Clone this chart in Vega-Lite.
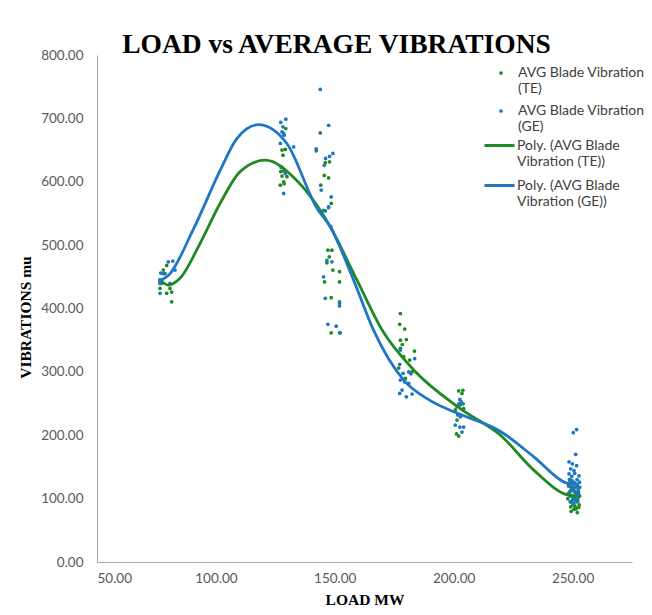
{
  "$schema": "https://vega.github.io/schema/vega-lite/v6.json",
  "width": 535,
  "height": 507,
  "autosize": "none",
  "padding": {"left": 97, "top": 55, "right": 20, "bottom": 53},
  "background": "white",
  "config": {"view": {"stroke": null}},
  "title": {
    "text": "LOAD vs AVERAGE VIBRATIONS",
    "font": "Liberation Serif",
    "fontSize": 27.5,
    "fontWeight": "bold",
    "color": "#000000",
    "anchor": "middle",
    "offset": -10,
    "dx": -28
  },
  "datasets": {
    "pts": [
      {"series": "AVG Blade Vibration (TE)", "load": 79.3, "vib": 468},
      {"series": "AVG Blade Vibration (TE)", "load": 77.9, "vib": 460.6},
      {"series": "AVG Blade Vibration (TE)", "load": 76.5, "vib": 431.7},
      {"series": "AVG Blade Vibration (TE)", "load": 80.7, "vib": 431.7},
      {"series": "AVG Blade Vibration (TE)", "load": 81.4, "vib": 426},
      {"series": "AVG Blade Vibration (TE)", "load": 81.4, "vib": 410.6},
      {"series": "AVG Blade Vibration (TE)", "load": 78.6, "vib": 455},
      {"series": "AVG Blade Vibration (TE)", "load": 76.5, "vib": 439.6},
      {"series": "AVG Blade Vibration (TE)", "load": 77.2, "vib": 445},
      {"series": "AVG Blade Vibration (TE)", "load": 79.3, "vib": 424},
      {"series": "AVG Blade Vibration (TE)", "load": 129.4, "vib": 684},
      {"series": "AVG Blade Vibration (TE)", "load": 127.8, "vib": 650},
      {"series": "AVG Blade Vibration (TE)", "load": 129.2, "vib": 651},
      {"series": "AVG Blade Vibration (TE)", "load": 128.2, "vib": 642},
      {"series": "AVG Blade Vibration (TE)", "load": 127.5, "vib": 622.5},
      {"series": "AVG Blade Vibration (TE)", "load": 128.5, "vib": 617},
      {"series": "AVG Blade Vibration (TE)", "load": 127.8, "vib": 609},
      {"series": "AVG Blade Vibration (TE)", "load": 129.9, "vib": 608},
      {"series": "AVG Blade Vibration (TE)", "load": 128.5, "vib": 600},
      {"series": "AVG Blade Vibration (TE)", "load": 127.1, "vib": 594.6},
      {"series": "AVG Blade Vibration (TE)", "load": 128.7, "vib": 597},
      {"series": "AVG Blade Vibration (TE)", "load": 127.3, "vib": 616},
      {"series": "AVG Blade Vibration (TE)", "load": 143.9, "vib": 677},
      {"series": "AVG Blade Vibration (TE)", "load": 142.2, "vib": 648.8},
      {"series": "AVG Blade Vibration (TE)", "load": 146.0, "vib": 630},
      {"series": "AVG Blade Vibration (TE)", "load": 147.8, "vib": 631.4},
      {"series": "AVG Blade Vibration (TE)", "load": 145.6, "vib": 610},
      {"series": "AVG Blade Vibration (TE)", "load": 147.4, "vib": 606},
      {"series": "AVG Blade Vibration (TE)", "load": 144.1, "vib": 594.6},
      {"series": "AVG Blade Vibration (TE)", "load": 148.5, "vib": 565.8},
      {"series": "AVG Blade Vibration (TE)", "load": 146.0, "vib": 554},
      {"series": "AVG Blade Vibration (TE)", "load": 147.1, "vib": 492},
      {"series": "AVG Blade Vibration (TE)", "load": 148.8, "vib": 492},
      {"series": "AVG Blade Vibration (TE)", "load": 147.7, "vib": 481.6},
      {"series": "AVG Blade Vibration (TE)", "load": 146.7, "vib": 472},
      {"series": "AVG Blade Vibration (TE)", "load": 149.2, "vib": 460.6},
      {"series": "AVG Blade Vibration (TE)", "load": 152.0, "vib": 458},
      {"series": "AVG Blade Vibration (TE)", "load": 145.7, "vib": 442},
      {"series": "AVG Blade Vibration (TE)", "load": 152.0, "vib": 442},
      {"series": "AVG Blade Vibration (TE)", "load": 148.5, "vib": 417},
      {"series": "AVG Blade Vibration (TE)", "load": 152.0, "vib": 410.6},
      {"series": "AVG Blade Vibration (TE)", "load": 148.5, "vib": 361.7},
      {"series": "AVG Blade Vibration (TE)", "load": 152.0, "vib": 361.7},
      {"series": "AVG Blade Vibration (TE)", "load": 177.6, "vib": 392},
      {"series": "AVG Blade Vibration (TE)", "load": 177.3, "vib": 375},
      {"series": "AVG Blade Vibration (TE)", "load": 179.4, "vib": 367.5},
      {"series": "AVG Blade Vibration (TE)", "load": 177.6, "vib": 350},
      {"series": "AVG Blade Vibration (TE)", "load": 180.1, "vib": 351},
      {"series": "AVG Blade Vibration (TE)", "load": 178.4, "vib": 343},
      {"series": "AVG Blade Vibration (TE)", "load": 183.5, "vib": 332.8},
      {"series": "AVG Blade Vibration (TE)", "load": 177.6, "vib": 337},
      {"series": "AVG Blade Vibration (TE)", "load": 179.0, "vib": 324},
      {"series": "AVG Blade Vibration (TE)", "load": 181.5, "vib": 318.6},
      {"series": "AVG Blade Vibration (TE)", "load": 182.5, "vib": 300},
      {"series": "AVG Blade Vibration (TE)", "load": 179.7, "vib": 289.7},
      {"series": "AVG Blade Vibration (TE)", "load": 176.9, "vib": 306},
      {"series": "AVG Blade Vibration (TE)", "load": 202.1, "vib": 270},
      {"series": "AVG Blade Vibration (TE)", "load": 203.9, "vib": 271},
      {"series": "AVG Blade Vibration (TE)", "load": 203.5, "vib": 266},
      {"series": "AVG Blade Vibration (TE)", "load": 201.4, "vib": 245},
      {"series": "AVG Blade Vibration (TE)", "load": 202.8, "vib": 248},
      {"series": "AVG Blade Vibration (TE)", "load": 204.2, "vib": 242},
      {"series": "AVG Blade Vibration (TE)", "load": 201.4, "vib": 224},
      {"series": "AVG Blade Vibration (TE)", "load": 200.7, "vib": 240},
      {"series": "AVG Blade Vibration (TE)", "load": 201.2, "vib": 202},
      {"series": "AVG Blade Vibration (TE)", "load": 202.1, "vib": 198.7},
      {"series": "AVG Blade Vibration (TE)", "load": 248.5, "vib": 120},
      {"series": "AVG Blade Vibration (TE)", "load": 249.0, "vib": 112},
      {"series": "AVG Blade Vibration (TE)", "load": 249.5, "vib": 105},
      {"series": "AVG Blade Vibration (TE)", "load": 250.0, "vib": 98},
      {"series": "AVG Blade Vibration (TE)", "load": 250.5, "vib": 92},
      {"series": "AVG Blade Vibration (TE)", "load": 251.0, "vib": 88},
      {"series": "AVG Blade Vibration (TE)", "load": 251.5, "vib": 84},
      {"series": "AVG Blade Vibration (TE)", "load": 252.0, "vib": 78},
      {"series": "AVG Blade Vibration (TE)", "load": 249.2, "vib": 87},
      {"series": "AVG Blade Vibration (TE)", "load": 250.8, "vib": 102},
      {"series": "AVG Blade Vibration (TE)", "load": 251.8, "vib": 95},
      {"series": "AVG Blade Vibration (TE)", "load": 252.5, "vib": 110},
      {"series": "AVG Blade Vibration (TE)", "load": 248.0, "vib": 100},
      {"series": "AVG Blade Vibration (TE)", "load": 249.8, "vib": 125},
      {"series": "AVG Blade Vibration (TE)", "load": 250.3, "vib": 115},
      {"series": "AVG Blade Vibration (TE)", "load": 251.2, "vib": 108},
      {"series": "AVG Blade Vibration (TE)", "load": 252.8, "vib": 90},
      {"series": "AVG Blade Vibration (TE)", "load": 249.0, "vib": 95},
      {"series": "AVG Blade Vibration (TE)", "load": 250.6, "vib": 83},
      {"series": "AVG Blade Vibration (TE)", "load": 251.9, "vib": 118},
      {"series": "AVG Blade Vibration (TE)", "load": 248.7, "vib": 130},
      {"series": "AVG Blade Vibration (TE)", "load": 250.1, "vib": 90},
      {"series": "AVG Blade Vibration (TE)", "load": 252.2, "vib": 100},
      {"series": "AVG Blade Vibration (TE)", "load": 249.4, "vib": 80},
      {"series": "AVG Blade Vibration (TE)", "load": 251.4, "vib": 98},
      {"series": "AVG Blade Vibration (TE)", "load": 253.0, "vib": 104},
      {"series": "AVG Blade Vibration (TE)", "load": 250.9, "vib": 112},
      {"series": "AVG Blade Vibration (TE)", "load": 248.2, "vib": 108},
      {"series": "AVG Blade Vibration (TE)", "load": 249.6, "vib": 118},
      {"series": "AVG Blade Vibration (TE)", "load": 252.6, "vib": 86},
      {"series": "AVG Blade Vibration (GE)", "load": 80.0, "vib": 473.6},
      {"series": "AVG Blade Vibration (GE)", "load": 81.9, "vib": 474.8},
      {"series": "AVG Blade Vibration (GE)", "load": 76.8, "vib": 456},
      {"series": "AVG Blade Vibration (GE)", "load": 77.9, "vib": 455},
      {"series": "AVG Blade Vibration (GE)", "load": 76.5, "vib": 442},
      {"series": "AVG Blade Vibration (GE)", "load": 77.2, "vib": 439.6},
      {"series": "AVG Blade Vibration (GE)", "load": 82.8, "vib": 460.6},
      {"series": "AVG Blade Vibration (GE)", "load": 76.5, "vib": 424},
      {"series": "AVG Blade Vibration (GE)", "load": 80.7, "vib": 439.6},
      {"series": "AVG Blade Vibration (GE)", "load": 76.4, "vib": 445},
      {"series": "AVG Blade Vibration (GE)", "load": 127.3, "vib": 693.5},
      {"series": "AVG Blade Vibration (GE)", "load": 129.4, "vib": 698.7},
      {"series": "AVG Blade Vibration (GE)", "load": 128.2, "vib": 686.6},
      {"series": "AVG Blade Vibration (GE)", "load": 127.8, "vib": 678.7},
      {"series": "AVG Blade Vibration (GE)", "load": 128.5, "vib": 676.2},
      {"series": "AVG Blade Vibration (GE)", "load": 128.7, "vib": 673.5},
      {"series": "AVG Blade Vibration (GE)", "load": 127.1, "vib": 660.4},
      {"series": "AVG Blade Vibration (GE)", "load": 132.7, "vib": 655},
      {"series": "AVG Blade Vibration (GE)", "load": 129.2, "vib": 613},
      {"series": "AVG Blade Vibration (GE)", "load": 128.5, "vib": 581.5},
      {"series": "AVG Blade Vibration (GE)", "load": 127.8, "vib": 623},
      {"series": "AVG Blade Vibration (GE)", "load": 143.9, "vib": 745.6},
      {"series": "AVG Blade Vibration (GE)", "load": 147.4, "vib": 689},
      {"series": "AVG Blade Vibration (GE)", "load": 145.6, "vib": 626},
      {"series": "AVG Blade Vibration (GE)", "load": 146.1, "vib": 636.7},
      {"series": "AVG Blade Vibration (GE)", "load": 147.8, "vib": 640},
      {"series": "AVG Blade Vibration (GE)", "load": 149.2, "vib": 644.6},
      {"series": "AVG Blade Vibration (GE)", "load": 144.3, "vib": 586.8},
      {"series": "AVG Blade Vibration (GE)", "load": 148.5, "vib": 576},
      {"series": "AVG Blade Vibration (GE)", "load": 147.4, "vib": 560.4},
      {"series": "AVG Blade Vibration (GE)", "load": 142.2, "vib": 652},
      {"series": "AVG Blade Vibration (GE)", "load": 145.3, "vib": 555},
      {"series": "AVG Blade Vibration (GE)", "load": 147.4, "vib": 559},
      {"series": "AVG Blade Vibration (GE)", "load": 148.4, "vib": 529},
      {"series": "AVG Blade Vibration (GE)", "load": 148.8, "vib": 473.7},
      {"series": "AVG Blade Vibration (GE)", "load": 146.7, "vib": 476},
      {"series": "AVG Blade Vibration (GE)", "load": 145.3, "vib": 450},
      {"series": "AVG Blade Vibration (GE)", "load": 146.0, "vib": 416},
      {"series": "AVG Blade Vibration (GE)", "load": 152.0, "vib": 408},
      {"series": "AVG Blade Vibration (GE)", "load": 152.0, "vib": 404},
      {"series": "AVG Blade Vibration (GE)", "load": 147.1, "vib": 375},
      {"series": "AVG Blade Vibration (GE)", "load": 150.6, "vib": 372},
      {"series": "AVG Blade Vibration (GE)", "load": 152.3, "vib": 361.7},
      {"series": "AVG Blade Vibration (GE)", "load": 177.6, "vib": 334.4},
      {"series": "AVG Blade Vibration (GE)", "load": 183.6, "vib": 321},
      {"series": "AVG Blade Vibration (GE)", "load": 177.3, "vib": 312},
      {"series": "AVG Blade Vibration (GE)", "load": 181.1, "vib": 300},
      {"series": "AVG Blade Vibration (GE)", "load": 182.0, "vib": 297},
      {"series": "AVG Blade Vibration (GE)", "load": 178.7, "vib": 297.6},
      {"series": "AVG Blade Vibration (GE)", "load": 177.6, "vib": 287},
      {"series": "AVG Blade Vibration (GE)", "load": 179.3, "vib": 284.4},
      {"series": "AVG Blade Vibration (GE)", "load": 181.1, "vib": 281.7},
      {"series": "AVG Blade Vibration (GE)", "load": 178.3, "vib": 271.3},
      {"series": "AVG Blade Vibration (GE)", "load": 177.3, "vib": 266},
      {"series": "AVG Blade Vibration (GE)", "load": 182.5, "vib": 265},
      {"series": "AVG Blade Vibration (GE)", "load": 180.1, "vib": 260.7},
      {"series": "AVG Blade Vibration (GE)", "load": 202.6, "vib": 256.6},
      {"series": "AVG Blade Vibration (GE)", "load": 203.2, "vib": 252.6},
      {"series": "AVG Blade Vibration (GE)", "load": 204.0, "vib": 249.6},
      {"series": "AVG Blade Vibration (GE)", "load": 202.1, "vib": 249.6},
      {"series": "AVG Blade Vibration (GE)", "load": 201.7, "vib": 232},
      {"series": "AVG Blade Vibration (GE)", "load": 202.8, "vib": 229},
      {"series": "AVG Blade Vibration (GE)", "load": 200.7, "vib": 216},
      {"series": "AVG Blade Vibration (GE)", "load": 202.6, "vib": 213},
      {"series": "AVG Blade Vibration (GE)", "load": 204.2, "vib": 213},
      {"series": "AVG Blade Vibration (GE)", "load": 203.5, "vib": 205},
      {"series": "AVG Blade Vibration (GE)", "load": 250.3, "vib": 204},
      {"series": "AVG Blade Vibration (GE)", "load": 251.7, "vib": 209},
      {"series": "AVG Blade Vibration (GE)", "load": 251.3, "vib": 170},
      {"series": "AVG Blade Vibration (GE)", "load": 248.5, "vib": 158},
      {"series": "AVG Blade Vibration (GE)", "load": 249.9, "vib": 155},
      {"series": "AVG Blade Vibration (GE)", "load": 251.7, "vib": 152},
      {"series": "AVG Blade Vibration (GE)", "load": 249.2, "vib": 147},
      {"series": "AVG Blade Vibration (GE)", "load": 250.6, "vib": 144},
      {"series": "AVG Blade Vibration (GE)", "load": 252.7, "vib": 136},
      {"series": "AVG Blade Vibration (GE)", "load": 248.5, "vib": 139},
      {"series": "AVG Blade Vibration (GE)", "load": 249.0, "vib": 130},
      {"series": "AVG Blade Vibration (GE)", "load": 250.0, "vib": 128},
      {"series": "AVG Blade Vibration (GE)", "load": 251.0, "vib": 125},
      {"series": "AVG Blade Vibration (GE)", "load": 252.0, "vib": 122},
      {"series": "AVG Blade Vibration (GE)", "load": 253.0, "vib": 118},
      {"series": "AVG Blade Vibration (GE)", "load": 248.3, "vib": 120},
      {"series": "AVG Blade Vibration (GE)", "load": 249.5, "vib": 115},
      {"series": "AVG Blade Vibration (GE)", "load": 250.5, "vib": 112},
      {"series": "AVG Blade Vibration (GE)", "load": 251.5, "vib": 110},
      {"series": "AVG Blade Vibration (GE)", "load": 252.5, "vib": 107},
      {"series": "AVG Blade Vibration (GE)", "load": 249.0, "vib": 104},
      {"series": "AVG Blade Vibration (GE)", "load": 250.2, "vib": 100},
      {"series": "AVG Blade Vibration (GE)", "load": 251.2, "vib": 98},
      {"series": "AVG Blade Vibration (GE)", "load": 252.2, "vib": 96},
      {"series": "AVG Blade Vibration (GE)", "load": 248.7, "vib": 110},
      {"series": "AVG Blade Vibration (GE)", "load": 250.8, "vib": 118},
      {"series": "AVG Blade Vibration (GE)", "load": 249.7, "vib": 135},
      {"series": "AVG Blade Vibration (GE)", "load": 251.9, "vib": 130},
      {"series": "AVG Blade Vibration (GE)", "load": 252.9, "vib": 126},
      {"series": "AVG Blade Vibration (GE)", "load": 250.4, "vib": 92},
      {"series": "AVG Blade Vibration (GE)", "load": 249.3, "vib": 95},
      {"series": "AVG Blade Vibration (GE)", "load": 251.6, "vib": 104},
      {"series": "AVG Blade Vibration (GE)", "load": 248.9, "vib": 126},
      {"series": "AVG Blade Vibration (GE)", "load": 250.9, "vib": 140},
      {"series": "AVG Blade Vibration (GE)", "load": 252.4, "vib": 114}
    ],
    "curves": [
      {"series": "Poly. (AVG Blade Vibration (TE))", "load": 76.5, "vib": 445},
      {"series": "Poly. (AVG Blade Vibration (TE))", "load": 80, "vib": 437},
      {"series": "Poly. (AVG Blade Vibration (TE))", "load": 85, "vib": 448},
      {"series": "Poly. (AVG Blade Vibration (TE))", "load": 93.4, "vib": 503},
      {"series": "Poly. (AVG Blade Vibration (TE))", "load": 101.8, "vib": 566},
      {"series": "Poly. (AVG Blade Vibration (TE))", "load": 110.2, "vib": 616},
      {"series": "Poly. (AVG Blade Vibration (TE))", "load": 120.7, "vib": 634},
      {"series": "Poly. (AVG Blade Vibration (TE))", "load": 134, "vib": 602},
      {"series": "Poly. (AVG Blade Vibration (TE))", "load": 143.9, "vib": 555},
      {"series": "Poly. (AVG Blade Vibration (TE))", "load": 148.1, "vib": 529},
      {"series": "Poly. (AVG Blade Vibration (TE))", "load": 159.3, "vib": 445},
      {"series": "Poly. (AVG Blade Vibration (TE))", "load": 169.9, "vib": 366},
      {"series": "Poly. (AVG Blade Vibration (TE))", "load": 183.2, "vib": 303},
      {"series": "Poly. (AVG Blade Vibration (TE))", "load": 202.8, "vib": 242},
      {"series": "Poly. (AVG Blade Vibration (TE))", "load": 219.7, "vib": 200},
      {"series": "Poly. (AVG Blade Vibration (TE))", "load": 233.7, "vib": 145},
      {"series": "Poly. (AVG Blade Vibration (TE))", "load": 247.8, "vib": 106},
      {"series": "Poly. (AVG Blade Vibration (TE))", "load": 251.3, "vib": 104},
      {"series": "Poly. (AVG Blade Vibration (GE))", "load": 76.5, "vib": 444},
      {"series": "Poly. (AVG Blade Vibration (GE))", "load": 80, "vib": 452},
      {"series": "Poly. (AVG Blade Vibration (GE))", "load": 90.4, "vib": 524},
      {"series": "Poly. (AVG Blade Vibration (GE))", "load": 101.8, "vib": 618},
      {"series": "Poly. (AVG Blade Vibration (GE))", "load": 108.8, "vib": 668},
      {"series": "Poly. (AVG Blade Vibration (GE))", "load": 117.9, "vib": 690},
      {"series": "Poly. (AVG Blade Vibration (GE))", "load": 129.9, "vib": 660},
      {"series": "Poly. (AVG Blade Vibration (GE))", "load": 142.5, "vib": 558},
      {"series": "Poly. (AVG Blade Vibration (GE))", "load": 148.1, "vib": 529},
      {"series": "Poly. (AVG Blade Vibration (GE))", "load": 157.9, "vib": 445},
      {"series": "Poly. (AVG Blade Vibration (GE))", "load": 166.3, "vib": 366},
      {"series": "Poly. (AVG Blade Vibration (GE))", "load": 179, "vib": 287},
      {"series": "Poly. (AVG Blade Vibration (GE))", "load": 190, "vib": 255},
      {"series": "Poly. (AVG Blade Vibration (GE))", "load": 201.4, "vib": 235},
      {"series": "Poly. (AVG Blade Vibration (GE))", "load": 219.7, "vib": 206},
      {"series": "Poly. (AVG Blade Vibration (GE))", "load": 233.7, "vib": 166},
      {"series": "Poly. (AVG Blade Vibration (GE))", "load": 247.8, "vib": 124},
      {"series": "Poly. (AVG Blade Vibration (GE))", "load": 251.3, "vib": 122}
    ]
  },
  "encoding": {
    "x": {
      "field": "load",
      "type": "quantitative",
      "scale": {"domain": [50, 275], "nice": false, "zero": false},
      "axis": {
        "title": "LOAD MW",
        "values": [50, 100, 150, 200, 250],
        "format": ".2f",
        "ticks": false,
        "grid": false,
        "domainColor": "#a6a6a6",
        "domainWidth": 1,
        "labelFont": "Lato",
        "labelFontSize": 13.5,
        "labelColor": "#595959",
        "labelPadding": 9,
        "titleFont": "Liberation Serif",
        "titleFontSize": 15.5,
        "titleFontWeight": "bold",
        "titleColor": "#000000",
        "titlePadding": 8
      }
    },
    "y": {
      "field": "vib",
      "type": "quantitative",
      "scale": {"domain": [0, 800], "nice": false},
      "axis": {
        "title": "VIBRATIONS mu",
        "values": [0, 100, 200, 300, 400, 500, 600, 700, 800],
        "format": ".2f",
        "ticks": false,
        "grid": false,
        "domainColor": "#a6a6a6",
        "domainWidth": 1,
        "labelFont": "Lato",
        "labelFontSize": 13.5,
        "labelColor": "#595959",
        "labelPadding": 14,
        "titleFont": "Liberation Serif",
        "titleFontSize": 15.5,
        "titleFontWeight": "bold",
        "titleColor": "#000000",
        "titlePadding": 7,
        "titleY": 262
      }
    }
  },
  "layer": [
    {
      "data": {"name": "pts"},
      "mark": {"type": "point", "filled": true, "size": 14, "opacity": 1},
      "encoding": {
        "fill": {
          "field": "series",
          "type": "nominal",
          "scale": {
            "domain": ["AVG Blade Vibration (TE)", "AVG Blade Vibration (GE)"],
            "range": ["#1f8a24", "#1f77c4"]
          },
          "legend": {
            "title": null,
            "orient": "none",
            "legendX": 397,
            "legendY": 11,
            "padding": 0,
            "symbolType": "circle",
            "symbolSize": 14,
            "labelFont": "Lato",
            "labelFontSize": 14,
            "labelColor": "#404040",
            "labelLineHeight": 17,
            "labelLimit": 200,
            "labelOffset": 10,
            "rowPadding": 8,
            "labelExpr": "[slice(datum.label,0,19), slice(datum.label,20)]"
          }
        }
      }
    },
    {
      "data": {"name": "curves"},
      "mark": {"type": "line", "strokeWidth": 2.8, "interpolate": "monotone"},
      "encoding": {
        "stroke": {
          "field": "series",
          "type": "nominal",
          "scale": {
            "domain": ["Poly. (AVG Blade Vibration (TE))", "Poly. (AVG Blade Vibration (GE))"],
            "range": ["#1f8a24", "#1f77c4"]
          },
          "legend": {
            "title": null,
            "orient": "none",
            "legendX": 386,
            "legendY": 74,
            "padding": 0,
            "symbolType": "stroke",
            "symbolSize": 900,
            "symbolStrokeWidth": 3,
            "labelFont": "Lato",
            "labelFontSize": 14,
            "labelColor": "#404040",
            "labelLineHeight": 17,
            "labelLimit": 200,
            "labelOffset": 1,
            "rowPadding": -7,
            "labelExpr": "[slice(datum.label,0,16), slice(datum.label,17)]"
          }
        }
      }
    }
  ]
}
